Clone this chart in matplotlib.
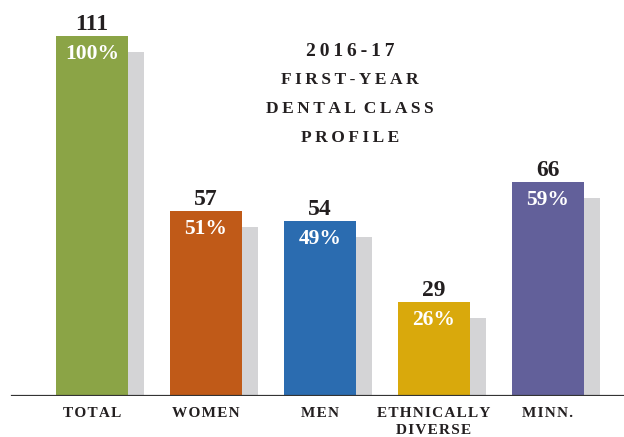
import numpy as np
import matplotlib.pyplot as plt

categories = ["TOTAL", "WOMEN", "MEN", "ETHNICALLY\nDIVERSE", "MINN."]
counts = [111, 57, 54, 29, 66]
percents = ["100%", "51%", "49%", "26%", "59%"]
colors = ["#8ba446", "#c05a18", "#2b6cb0", "#d9a90c", "#62609a"]
shadow = "#d4d4d6"
title = ["2016-17", "FIRST-YEAR", "DENTAL CLASS", "PROFILE"]

plt.rcParams["font.family"] = ["Liberation Serif", "DejaVu Serif"]


def spaced(s, gap="\u2009"):
    # letter-spaced look of the original small caps
    out = []
    for line in s.split("\n"):
        out.append((gap + " ").join(gap.join(word) for word in line.split(" ")))
    return "\n".join(out)


fig = plt.figure(figsize=(6.24, 4.37), dpi=100)
ax = fig.add_axes([0, 41 / 437, 1, 396 / 437])

x = np.arange(len(counts))
w = 0.63
dx = 16 / 114      # shadow shift, in bar spacings
dy = 16 / 3.243    # shadow drop, in count units

ax.bar(x + dx, np.array(counts) - dy, width=w, color=shadow, zorder=1)
ax.bar(x, counts, width=w, color=colors, zorder=2)

for xi, c, p in zip(x, counts, percents):
    ax.text(xi, c + 1.8, str(c), ha="center", va="baseline", fontsize=17,
            fontweight="bold", color="#231f20")
    ax.text(xi, c - 5.5, p, ha="center", va="center", fontsize=15.5,
            fontweight="bold", color="white", zorder=3)

ax.axhline(0, xmin=12 / 624, xmax=1, color="#333333", lw=1.6, zorder=4)

ax.set_xlim(-92 / 114, (624 - 92) / 114)
ax.set_ylim(0, 396 / 3.243)
ax.axis("off")

for xi, cat in zip(x, categories):
    fig.text((92 + 114 * xi) / 624, 1 - 407 / 437, spaced(cat, "\u200a"),
             ha="center", va="top", fontsize=11, fontweight="bold",
             color="#231f20", linespacing=1.45)

for i, line in enumerate(title):
    fig.text(350 / 624, 1 - (51 + 29 * i) / 437, spaced(line), ha="center",
             va="center", fontsize=12.5 if i else 14, fontweight="bold",
             color="#231f20")

fig.savefig("out.png", dpi=100)
